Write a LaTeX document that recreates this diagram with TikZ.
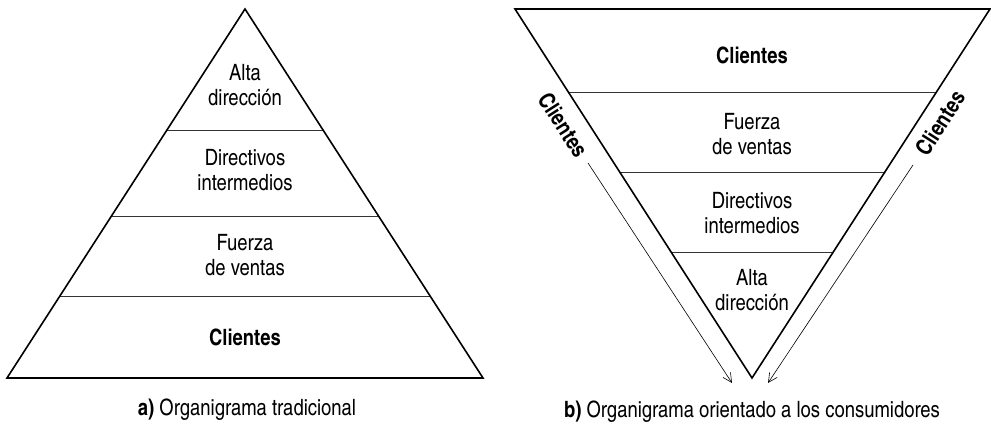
\documentclass[tikz,border=0pt]{standalone}
\usepackage{fontspec}
\setmainfont{texgyreheroscn}[Extension=.otf, UprightFont=*-regular, BoldFont=*-bold]
\usetikzlibrary{calc,arrows.meta}

\tikzset{
    nivel/.style={align=center, inner sep=0pt, font=\fontsize{22.5}{25.5}\selectfont},
    pie/.style={inner sep=0pt, font=\fontsize{22.5}{25.5}\selectfont},
    borde/.style={black, line width=1.6pt, line join=miter},
    corte/.style={black!80, line width=0.9pt},
    flecha/.style={black, line width=0.6pt, -{Straight Barb[length=9pt,width=9pt]}}
}

\begin{document}
\begin{tikzpicture}[x=1pt, y=1pt]
        \useasboundingbox (0,0) rectangle (991,427);

        % a) piramide tradicional
        \coordinate (ap) at (245,418);
        \coordinate (al) at (7,49);
        \coordinate (ar) at (483,49);
        \draw[corte] ($(ap)!0.328!(al)$) -- ($(ap)!0.328!(ar)$);
        \draw[corte] ($(ap)!0.561!(al)$) -- ($(ap)!0.561!(ar)$);
        \draw[corte] ($(ap)!0.778!(al)$) -- ($(ap)!0.778!(ar)$);
        \draw[borde] (ap) -- (al) -- (ar) -- cycle;

        \node[nivel] (a1) at (245,342) {Alta\\dirección};
        \node[nivel] (a2) at (245,257) {Directivos\\intermedios};
        \node[nivel] (a3) at (245,172) {Fuerza\\de ventas};
        \node[nivel] (a4) at (245,90) {\textbf{Clientes}};
        \node[pie] (pa) at (247,17) {\textbf{a)} Organigrama tradicional};

        % b) piramide invertida
        \coordinate (bl) at (515,418);
        \coordinate (br) at (990,418);
        \coordinate (bp) at (752,49);
        \draw[corte] ($(bl)!0.225!(bp)$) -- ($(br)!0.225!(bp)$);
        \draw[corte] ($(bl)!0.444!(bp)$) -- ($(br)!0.444!(bp)$);
        \draw[corte] ($(bl)!0.661!(bp)$) -- ($(br)!0.661!(bp)$);
        \draw[borde] (bl) -- (br) -- (bp) -- cycle;

        \node[nivel] (b1) at (752,372) {\textbf{Clientes}};
        \node[nivel] (b2) at (752,293) {Fuerza\\de ventas};
        \node[nivel] (b3) at (752,214) {Directivos\\intermedios};
        \node[nivel] (b4) at (752,137) {Alta\\dirección};
        \node[pie] (pb) at (752,15) {\textbf{b)} Organigrama orientado a los consumidores};

        \node[nivel, rotate=-57.3] (cl) at (563,302) {\textbf{Clientes}};
        \node[nivel, rotate=57.3] (cr) at (940,304) {\textbf{Clientes}};

        \coordinate (fl1) at (588,264);
        \coordinate (fl2) at (732,44);
        \coordinate (fr1) at (913,262);
        \coordinate (fr2) at (768,44);
        \draw[flecha] (fl1) -- (fl2);
        \draw[flecha] (fr1) -- (fr2);
    \end{tikzpicture}
\end{document}
